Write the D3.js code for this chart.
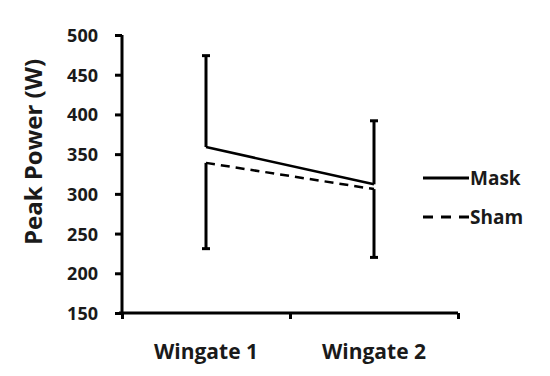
<!DOCTYPE html>
<html>
<head>
<meta charset="utf-8">
<script src="https://cdn.jsdelivr.net/npm/d3@7"></script>
<style>
  body { margin: 0; background: #fff; }
  text { font-family: "Open Sans", "Liberation Sans", sans-serif; font-weight: bold; fill: #1a1a1a; }
</style>
</head>
<body>
<div id="chart"></div>
<script>
var categories = ["Wingate 1", "Wingate 2"];
var maskMean = [359, 312];
var maskSD = [115, 80];
var shamMean = [339, 306];
var shamSD = [108, 86];
var yTicks = [150, 200, 250, 300, 350, 400, 450, 500];

var width = 550, height = 376;
var margin = {top: 35, right: 92, bottom: 63, left: 122};

var svg = d3.select("#chart").append("svg")
    .attr("width", width)
    .attr("height", height);

var x = d3.scaleLinear()
    .domain([0, categories.length])
    .range([margin.left, width - margin.right]);

var y = d3.scaleLinear()
    .domain([150, 500])
    .range([height - margin.bottom, margin.top]);

// y axis
var yAxis = d3.axisLeft(y)
    .tickValues(yTicks)
    .tickSize(7)
    .tickPadding(17)
    .tickFormat(d3.format("d"));

var gy = svg.append("g")
    .attr("transform", "translate(" + margin.left + ",0)")
    .call(yAxis);
gy.select(".domain").attr("stroke-width", 3).attr("d",
    "M0," + y(500) + "V" + (y(150) + 2));
gy.selectAll(".tick line").attr("stroke-width", 3);
gy.selectAll(".tick text")
    .style("font-size", "18px")
    .attr("dy", "0.36em");

// x axis: ticks at category boundaries, labels at centres
var xAxis = d3.axisBottom(x)
    .tickValues(d3.range(categories.length + 1))
    .tickSize(6)
    .tickFormat("");

var gx = svg.append("g")
    .attr("transform", "translate(0," + y(150) + ")")
    .call(xAxis);
gx.select(".domain").attr("stroke-width", 3)
    .attr("d", "M" + (x(0) - 3) + ",0H" + x(categories.length));
gx.selectAll(".tick line").attr("stroke-width", 3);

svg.append("g").selectAll("text")
    .data(categories)
    .enter().append("text")
    .attr("x", function (d, i) { return x(i + 0.5); })
    .attr("y", y(150) + 46)
    .attr("text-anchor", "middle")
    .style("font-size", "21px")
    .text(function (d) { return d; });

// y title
svg.append("text")
    .attr("transform", "translate(42," + ((y(150) + y(500)) / 2 - 22) + ") rotate(-90)")
    .attr("text-anchor", "middle")
    .style("font-size", "24px")
    .text("Peak Power (W)");

// error bars: mask upward, sham downward
function errorBars(means, sds, dir) {
    var g = svg.append("g");
    means.forEach(function (m, i) {
        var cx = x(i + 0.5);
        var end = m + dir * sds[i];
        g.append("line")
            .attr("x1", cx).attr("x2", cx)
            .attr("y1", y(m)).attr("y2", y(end))
            .attr("stroke", "#000").attr("stroke-width", 3);
        g.append("line")
            .attr("x1", cx - 4).attr("x2", cx + 4)
            .attr("y1", y(end)).attr("y2", y(end))
            .attr("stroke", "#000").attr("stroke-width", 3);
    });
}
errorBars(maskMean, maskSD, 1);
errorBars(shamMean, shamSD, -1);

var line = d3.line()
    .x(function (d, i) { return x(i + 0.5); })
    .y(function (d) { return y(d); });

svg.append("path")
    .datum(maskMean)
    .attr("d", line)
    .attr("fill", "none")
    .attr("stroke", "#000")
    .attr("stroke-width", 2.5);

svg.append("path")
    .datum(shamMean)
    .attr("d", line)
    .attr("fill", "none")
    .attr("stroke", "#000")
    .attr("stroke-width", 2.5)
    .attr("stroke-dasharray", "9,6");

// legend
var legend = [
    {name: "Mask", dash: null, yy: 178},
    {name: "Sham", dash: "10,8", yy: 217}
];
var lg = svg.append("g");
legend.forEach(function (d) {
    lg.append("line")
        .attr("x1", 423).attr("x2", 469)
        .attr("y1", d.yy).attr("y2", d.yy)
        .attr("stroke", "#000")
        .attr("stroke-width", 3)
        .attr("stroke-dasharray", d.dash);
    lg.append("text")
        .attr("x", 470)
        .attr("y", d.yy)
        .attr("dy", "0.35em")
        .style("font-size", "19px")
        .text(d.name);
});
</script>
</body>
</html>
